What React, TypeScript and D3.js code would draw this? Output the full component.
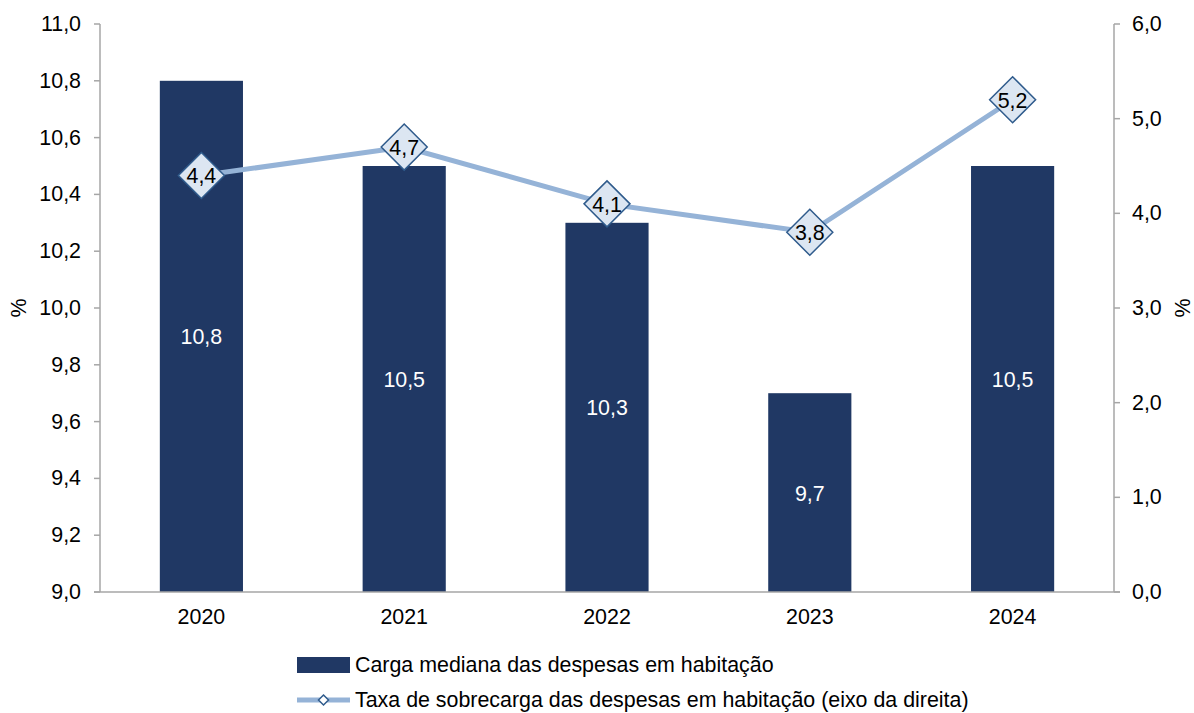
import React from "react";
import * as d3 from "d3";

const years = ["2020", "2021", "2022", "2023", "2024"];
const medianBurden = [10.8, 10.5, 10.3, 9.7, 10.5];
const overburdenRate = [4.4, 4.7, 4.1, 3.8, 5.2];
const leftTicks = [9.0, 9.2, 9.4, 9.6, 9.8, 10.0, 10.2, 10.4, 10.6, 10.8, 11.0];
const rightTicks = [0, 1, 2, 3, 4, 5, 6];
const legendLabels = [
  "Carga mediana das despesas em habitação",
  "Taxa de sobrecarga das despesas em habitação (eixo da direita)",
];

const W = 1194;
const H = 713;
const M = { left: 100, right: 1114, top: 24, bottom: 592 };
const FONT = "'Liberation Sans', Arial, sans-serif";
const FS = 21.4;
const BAR = "#203864";
const LINE = "#95b3d7";
const AXIS = "#a6a6a6";

const fmt = (v: number) => v.toFixed(1).replace(".", ",");

export default function App() {
  const x = d3.scaleBand<string>().domain(years).range([M.left, M.right]).paddingInner(0.59).paddingOuter(0.295);
  const yL = d3.scaleLinear().domain([9, 11]).range([M.bottom, M.top]);
  const yR = d3.scaleLinear().domain([0, 6]).range([M.bottom, M.top]);
  const cx = (d: string) => (x(d) as number) + x.bandwidth() / 2;
  const linePath = d3
    .line<number>()
    .x((_, i) => cx(years[i]))
    .y((v) => yR(v))(overburdenRate) as string;
  const diamond = (px: number, py: number, r: number) =>
    `M${px},${py - r}L${px + r},${py}L${px},${py + r}L${px - r},${py}Z`;

  return (
    <svg width={W} height={H} style={{ position: "absolute", left: 0, top: 0 }} fontFamily={FONT}>
      <rect width={W} height={H} fill="#fff" />
      {years.map((yr, i) => (
        <rect key={yr} x={x(yr)} y={yL(medianBurden[i])} width={x.bandwidth()} height={M.bottom - yL(medianBurden[i])} fill={BAR} />
      ))}
      {years.map((yr, i) => (
        <text key={"bl" + yr} x={cx(yr)} y={(yL(medianBurden[i]) + M.bottom) / 2 + 1} fill="#fff" fontSize={FS} textAnchor="middle" dominantBaseline="central">
          {fmt(medianBurden[i])}
        </text>
      ))}
      <line x1={M.left} x2={M.left} y1={M.top} y2={M.bottom} stroke={AXIS} strokeWidth={1.5} />
      <line x1={M.right} x2={M.right} y1={M.top} y2={M.bottom} stroke={AXIS} strokeWidth={1.5} />
      <line x1={M.left - 6} x2={M.right + 6} y1={M.bottom} y2={M.bottom} stroke={AXIS} strokeWidth={1.5} />
      {leftTicks.map((t) => (
        <g key={"lt" + t}>
          <line x1={M.left - 6} x2={M.left} y1={yL(t)} y2={yL(t)} stroke={AXIS} strokeWidth={1.5} />
          <text x={M.left - 19} y={yL(t)} fontSize={FS} textAnchor="end" dominantBaseline="central" fill="#000">
            {fmt(t)}
          </text>
        </g>
      ))}
      {rightTicks.map((t) => (
        <g key={"rt" + t}>
          <line x1={M.right} x2={M.right + 6} y1={yR(t)} y2={yR(t)} stroke={AXIS} strokeWidth={1.5} />
          <text x={M.right + 18} y={yR(t)} fontSize={FS} textAnchor="start" dominantBaseline="central" fill="#000">
            {fmt(t)}
          </text>
        </g>
      ))}
      {years.map((yr) => (
        <text key={"xt" + yr} x={cx(yr)} y={M.bottom + 25} fontSize={FS} textAnchor="middle" dominantBaseline="central" fill="#000">
          {yr}
        </text>
      ))}
      <text transform={`translate(19,${(M.top + M.bottom) / 2}) rotate(-90)`} fontSize={FS} textAnchor="middle" dominantBaseline="central">%</text>
      <text transform={`translate(1183,${(M.top + M.bottom) / 2}) rotate(-90)`} fontSize={FS} textAnchor="middle" dominantBaseline="central">%</text>
      <path d={linePath} fill="none" stroke={LINE} strokeWidth={5} />
      {years.map((yr, i) => (
        <g key={"pt" + yr}>
          <path d={diamond(cx(yr), yR(overburdenRate[i]), 23)} fill="#dce6f2" stroke="#2f5b8c" strokeWidth={1.5} />
          <text x={cx(yr)} y={yR(overburdenRate[i]) + 1} fontSize={FS} textAnchor="middle" dominantBaseline="central" fill="#000">
            {fmt(overburdenRate[i])}
          </text>
        </g>
      ))}
      <rect x={297} y={657} width={53} height={16} fill={BAR} />
      <text x={355} y={665} fontSize={FS} dominantBaseline="central" fill="#000">{legendLabels[0]}</text>
      <line x1={297} x2={350} y1={700} y2={700} stroke={LINE} strokeWidth={5} />
      <path d={diamond(323.5, 700, 5)} fill="#fff" stroke="#2f5b8c" strokeWidth={1.5} />
      <text x={355} y={700} fontSize={FS} dominantBaseline="central" fill="#000">{legendLabels[1]}</text>
    </svg>
  );
}
